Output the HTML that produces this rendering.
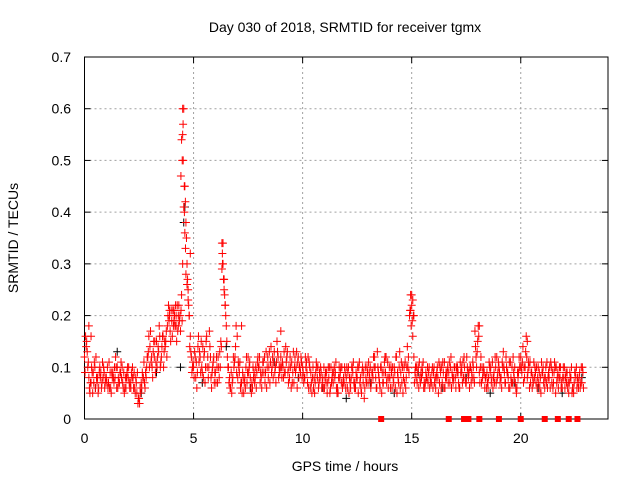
<!DOCTYPE html>
<html><head><meta charset="utf-8"><style>
body{margin:0;background:#fff}
svg text{font-family:"Liberation Sans",sans-serif;font-size:14px;fill:#000}
</style></head><body>
<svg id="c" width="640" height="480" xmlns="http://www.w3.org/2000/svg">
<rect width="640" height="480" fill="#fff"/>
<text x="345" y="32" text-anchor="middle">Day 030 of 2018, SRMTID for receiver tgmx</text>
<text x="345" y="471" text-anchor="middle">GPS time / hours</text>
<text transform="translate(18,238) rotate(-90)" text-anchor="middle">SRMTID / TECUs</text>
<g id="grid"></g><g id="axes"></g><g id="marks"></g>
</svg>
<script>
const xTicks=[0,5,10,15,20];
const yTicks=[0,0.1,0.2,0.3,0.4,0.5,0.6,0.7];
const yTickLabels=["0","0.1","0.2","0.3","0.4","0.5","0.6","0.7"];
const sampleStep=0.1;
const redA=[.12,.15,.08,.07,.09,.06,.08,.1,.07,.09,
.08,.07,.06,.09,.08,.1,.07,.08,.09,.06,
.08,.07,.1,.06,.05,.04,.07,.08,.09,.12,
.14,.1,.12,.15,.13,.11,.16,.14,.18,.2,
.19,.21,.18,.2,.17,.55,.45,.3,.2,.12,
.1,.08,.14,.12,.09,.13,.16,.1,.08,.11,
.09,.07,.13,.29,.27,.18,.1,.06,.08,.12,
.16,.09,.07,.05,.1,.12,.08,.06,.07,.09,
.1,.08,.11,.09,.12,.07,.1,.13,.11,.08,
.12,.1,.09,.13,.08,.11,.07,.1,.12,.09,
.1,.08,.09,.11,.07,.06,.09,.1,.08,.07,
.06,.09,.08,.1,.07,.09,.06,.08,.1,.07,
.08,.1,.06,.09,.07,.08,.11,.05,.09,.08,
.07,.1,.09,.12,.06,.08,.1,.07,.09,.11,
.08,.06,.1,.12,.07,.09,.05,.11,.14,.2,
.22,.12,.08,.1,.07,.09,.06,.08,.1,.07,
.09,.06,.08,.1,.07,.11,.08,.09,.12,.07,
.08,.1,.06,.09,.12,.07,.08,.1,.11,.17,
.13,.09,.07,.1,.08,.06,.09,.11,.07,.12,
.1,.08,.13,.07,.09,.06,.1,.08,.05,.09,
.12,.14,.1,.08,.06,.09,.11,.07,.1,.08,
.09,.06,.11,.08,.1,.07,.05,.09,.08,.06,
.1,.07,.05,.08,.06,.09,.08,.09,.07];
const redB=[.16,.1,.05,.09,.11,.08,.06,.09,.08,.07,
.1,.06,.09,.07,.1,.08,.09,.07,.06,.09,
.07,.09,.06,.08,.03,.06,.09,.07,.1,.16,
.11,.13,.09,.12,.16,.14,.13,.17,.22,.15,
.21,.18,.22,.19,.24,.6,.38,.25,.16,.1,
.13,.06,.11,.15,.08,.1,.12,.14,.09,.07,
.12,.1,.15,.34,.22,.12,.08,.05,.1,.18,
.11,.06,.09,.08,.07,.1,.05,.08,.1,.12,
.07,.09,.12,.06,.1,.14,.08,.1,.13,.09,
.08,.13,.11,.07,.1,.09,.12,.06,.1,.11,
.07,.1,.12,.06,.08,.05,.1,.07,.09,.06,
.09,.07,.05,.08,.1,.06,.08,.1,.07,.09,
.06,.08,.1,.07,.09,.05,.08,.1,.06,.1,
.09,.07,.12,.08,.1,.06,.09,.11,.07,.08,
.1,.08,.06,.09,.13,.07,.1,.08,.12,.24,
.16,.09,.07,.11,.08,.06,.09,.07,.08,.1,
.07,.09,.11,.06,.09,.08,.1,.07,.09,.1,
.1,.07,.09,.11,.08,.1,.06,.09,.08,.12,
.18,.1,.08,.06,.09,.11,.07,.08,.1,.09,
.07,.11,.09,.1,.06,.08,.12,.07,.09,.1,
.09,.1,.16,.11,.07,.08,.1,.06,.09,.11,
.07,.1,.08,.06,.09,.11,.07,.08,.06,.1,
.08,.06,.09,.05,.07,.1,.06,.07,.09];
const redC=[.09,.13,.06,.1,.07,.12,.05,.08,.11,.06,
.07,.11,.05,.08,.12,.06,.09,.1,.05,.08,
.1,.06,.08,.05,.09,.03,.06,.11,.08,.13,
.17,.08,.15,.1,.18,.12,.1,.15,.2,.17,
.16,.2,.15,.22,.21,.5,.42,.27,.14,.09,
.08,.11,.16,.09,.14,.07,.1,.17,.06,.12,
.07,.12,.1,.3,.24,.15,.07,.09,.12,.14,
.08,.11,.05,.07,.12,.09,.06,.1,.08,.11,
.12,.06,.09,.13,.08,.11,.12,.09,.15,.1,
.1,.08,.14,.09,.12,.07,.1,.13,.08,.12,
.09,.12,.07,.1,.05,.08,.11,.06,.1,.08,
.08,.05,.1,.07,.09,.11,.05,.09,.06,.1,
.1,.05,.08,.11,.06,.1,.07,.09,.04,.07,
.11,.06,.08,.1,.13,.07,.05,.09,.12,.06,
.06,.1,.09,.05,.1,.11,.08,.06,.1,.21,
.19,.07,.1,.06,.09,.11,.07,.1,.06,.09,
.1,.08,.05,.09,.11,.06,.09,.11,.06,.08,
.06,.09,.11,.07,.1,.12,.09,.07,.1,.14,
.15,.07,.1,.09,.06,.08,.1,.06,.12,.08,
.09,.06,.1,.12,.08,.11,.07,.1,.06,.12,
.1,.07,.13,.09,.11,.06,.08,.1,.07,.05,
.1,.08,.06,.1,.07,.09,.1,.06,.1,.08,
.06,.09,.07,.1,.05,.08,.07,.06,.1];
const redD=[.14,.11,.07,.05,.1,.07,.09,.06,.1,.08,
.06,.09,.08,.1,.06,.07,.11,.06,.08,.1,
.06,.08,.09,.07,.04,.05,.08,.06,.12,.1,
.12,.15,.11,.14,.1,.16,.15,.12,.19,.21,
.18,.22,.17,.2,.19,.45,.35,.22,.13,.11,
.12,.09,.13,.1,.12,.15,.08,.12,.1,.09,
.1,.08,.14,.27,.2,.1,.06,.07,.11,.09,
.1,.07,.08,.06,.09,.11,.07,.09,.06,.1,
.09,.11,.07,.1,.13,.09,.11,.07,.12,.1,
.11,.09,.12,.1,.06,.13,.09,.11,.1,.08,
.08,.11,.06,.09,.1,.07,.08,.09,.06,.1,
.07,.1,.06,.09,.08,.05,.1,.07,.08,.06,
.09,.07,.1,.06,.08,.1,.06,.07,.1,.09,
.08,.09,.1,.06,.09,.1,.07,.12,.08,.1,
.09,.07,.12,.08,.06,.1,.07,.1,.09,.18,
.2,.1,.09,.08,.1,.07,.08,.09,.07,.06,
.08,.1,.07,.1,.06,.09,.07,.1,.08,.1,
.09,.06,.1,.08,.07,.09,.1,.08,.07,.1,
.16,.12,.09,.08,.07,.1,.08,.09,.07,.11,
.08,.1,.07,.09,.11,.07,.09,.06,.08,.1,
.11,.08,.12,.1,.09,.07,.09,.08,.06,.09,
.08,.07,.09,.11,.06,.1,.08,.1,.07,.08,
.09,.07,.08,.06,.09,.06,.08,.1,.06];
const spikeTimes=[4.5,4.52,4.45,4.48,4.42,4.55,4.58,4.6,4.63,4.5,4.65,4.7,4.75,4.8,4.85,6.3,6.32,6.35,6.38,6.4,6.45,15.0,15.05,15.1,14.95,4.2,4.1,3.9,4.3,0.2,0.3,7.2,9.0,18.1,20.3];
const spikeValues=[.6,.57,.54,.5,.47,.41,.4,.36,.33,.3,.28,.26,.23,.2,.32,.34,.32,.3,.27,.25,.22,.24,.23,.2,.21,.2,.19,.21,.18,.18,.16,.18,.17,.18,.15];
const blackTimes=[0.5,1.5,2.6,3.3,4.4,4.6,5.4,6.5,7.6,8.7,9.8,10.9,12.0,13.1,14.2,15.3,16.4,17.5,18.6,19.7,20.8,21.9,22.8,4.55];
const blackValues=[.06,.13,.05,.09,.1,.41,.07,.14,.06,.11,.08,.06,.04,.07,.05,.09,.06,.08,.05,.07,.06,.05,.08,.38];
const zeroTimes=[13.6,16.7,17.4,17.6,18.1,19.0,20.0,21.1,21.7,22.2,22.6];

const L=84.5,R=608,T=57,B=419;
const xs=h=>L+h/24*(R-L);
const ys=v=>B-v/0.7*(B-T);
const NS="http://www.w3.org/2000/svg";
function mk(tag,attrs,parent){const e=document.createElementNS(NS,tag);for(const k in attrs)e.setAttribute(k,attrs[k]);parent.appendChild(e);return e;}
const grid=document.getElementById('grid'),axes=document.getElementById('axes'),marks=document.getElementById('marks');
xTicks.forEach(t=>{const x=xs(t);
 if(t>0){const g=mk('line',{x1:x,x2:x,y1:T,y2:B,stroke:'#a0a0a0','stroke-dasharray':'2,3'},grid);
 
 }
 mk('line',{x1:x,x2:x,y1:B,y2:B-6,stroke:'#000'},axes);
 mk('line',{x1:x,x2:x,y1:T,y2:T+6,stroke:'#000'},axes);
 const tx=mk('text',{x:x,y:443,'text-anchor':'middle'},axes);tx.textContent=t;
 
 
});
yTicks.forEach((v,i)=>{const y=ys(v);
 if(v>0&&v<0.7){const g=mk('line',{x1:L,x2:R,y1:y,y2:y,stroke:'#a0a0a0','stroke-dasharray':'2,3'},grid);
 
 }
 mk('line',{x1:L,x2:L+6,y1:y,y2:y,stroke:'#000'},axes);
 mk('line',{x1:R,x2:R-6,y1:y,y2:y,stroke:'#000'},axes);
 const tx=mk('text',{x:71,y:y+5,'text-anchor':'end'},axes);tx.textContent=yTickLabels[i];
 
 
});
const frame=mk('rect',{x:L,y:T,width:R-L,height:B-T,fill:'none',stroke:'#000'},axes);


function plus(t,v,color,name){const x=xs(t),y=ys(v);
 const p=mk('path',{d:`M${x-4},${y}h8M${x},${y-4}v8`,stroke:color,'stroke-width':1,fill:'none'},marks);
 
 }
blackTimes.forEach((t,i)=>plus(t,blackValues[i],'#000','black-point'));
redA.forEach((v,i)=>plus(i*sampleStep,v,'#f00','red-point'));
redB.forEach((v,i)=>plus(i*sampleStep+0.05,v,'#f00','red-point'));
redC.forEach((v,i)=>plus(i*sampleStep+0.025,v,'#f00','red-point'));
redD.forEach((v,i)=>plus(i*sampleStep+0.075,v,'#f00','red-point'));
spikeTimes.forEach((t,i)=>plus(t,spikeValues[i],'#f00','red-point'));
zeroTimes.forEach(t=>{const r=mk('rect',{x:xs(t)-3,y:B-3,width:6,height:6,fill:'#f00'},marks);
 
 });
</script>
</body></html>
